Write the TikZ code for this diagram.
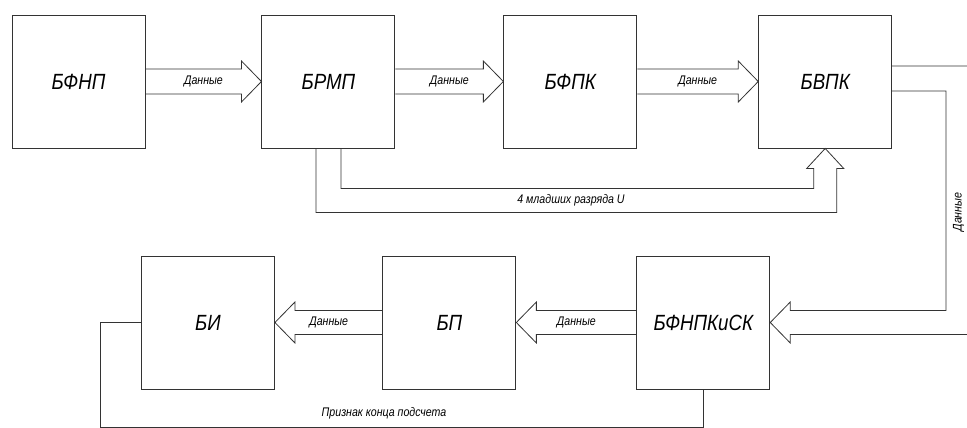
\documentclass[tikz,border=0pt]{standalone}
\usepackage{fontspec}
\setmainfont{Liberation Sans}[FakeStretch=0.85]
\usepackage{xcolor}
\usetikzlibrary{calc,positioning}
\definecolor{linegray}{HTML}{333333}

% block arrow pointing right, from #1 to #2
\newcommand{\blockright}[2]{%
  \draw[conn] ($(#1.east)+(0,-12.5)$) -- ($(#2.west)+(-20,-12.5)$) -- ($(#2.west)+(-20,-20.5)$)
    -- (#2.west) -- ($(#2.west)+(-20,20.5)$) -- ($(#2.west)+(-20,12.5)$) -- ($(#1.east)+(0,12.5)$);
  \node[lbl] at ($(#1.east)!0.5!(#2.west)$) {Данные};}
% block arrow pointing left, from #1 to #2
\newcommand{\blockleft}[2]{%
  \draw[conn] ($(#1.west)+(0,-12)$) -- ($(#2.east)+(20,-12)$) -- ($(#2.east)+(20,-20.5)$)
    -- (#2.east) -- ($(#2.east)+(20,20.5)$) -- ($(#2.east)+(20,12)$) -- ($(#1.west)+(0,12)$);
  \node[lbl] at ($(#1.west)!0.5!(#2.east)$) {Данные};}

\begin{document}
\begin{tikzpicture}[x=1pt,y=-1pt,
  block/.style={draw=linegray,line width=0.9pt,minimum width=133pt,minimum height=133pt,
    inner sep=0pt,font=\itshape\fontsize{22}{22}\selectfont},
  conn/.style={draw=linegray,line width=0.8pt},
  lbl/.style={font=\itshape\fontsize{12.5}{12.5}\selectfont,inner sep=1pt}]
  \path[use as bounding box,clip] (0,0) rectangle (967,428);

  \node[block] (bfnp) at (78.5,81.5) {БФНП};
  \node[block,right=116pt of bfnp] (brmp) {БРМП};
  \node[block,right=108pt of brmp] (bfpk) {БФПК};
  \node[block,right=121pt of bfpk] (bvpk) {БВПК};

  \node[block] (bi) at (208,322.5) {БИ};
  \node[block,right=107.5pt of bi] (bp) {БП};
  \node[block,right=120pt of bp] (bfnpkisk) {БФНПКиСК};

  \blockright{bfnp}{brmp}
  \blockright{brmp}{bfpk}
  \blockright{bfpk}{bvpk}
  \blockleft{bfnpkisk}{bp}
  \blockleft{bp}{bi}

  % lower bits of U into BVPK
  \draw[conn] ($(brmp.south)+(12.5,0)$) -- ($(brmp.south)+(12.5,40)$) -- ($(bvpk.south)+(-11.5,40)$)
    -- ($(bvpk.south)+(-11.5,20)$) -- ($(bvpk.south)+(-18.5,20)$) -- (bvpk.south)
    -- ($(bvpk.south)+(18.5,20)$) -- ($(bvpk.south)+(11.5,20)$) -- ($(bvpk.south)+(11.5,64)$)
    -- ($(brmp.south)+(-12.5,64)$) -- ($(brmp.south)+(-12.5,0)$);
  \node[lbl] at (571,200) {4 младших разряда U};

  % channel on the right
  \coordinate (chan) at (958.5,212);
  \draw[conn] ($(bvpk.east)+(0,9.5)$) -| ($(chan)+(-12.5,0)$) |- ($(bfnpkisk.east)+(20,-12)$)
    -- ($(bfnpkisk.east)+(20,-20.5)$) -- (bfnpkisk.east) -- ($(bfnpkisk.east)+(20,20.5)$)
    -- ($(bfnpkisk.east)+(20,12)$) -| ($(chan)+(12.5,0)$) |- ($(bvpk.east)+(0,-15.5)$);
  \node[lbl,rotate=90] at (chan) {Данные};

  % end of count
  \coordinate (fb) at (100,427);
  \draw[conn] (bi.west) -| (fb) -| (bfnpkisk.south);
  \node[lbl] at (384,413) {Признак конца подсчета};
\end{tikzpicture}
\end{document}
